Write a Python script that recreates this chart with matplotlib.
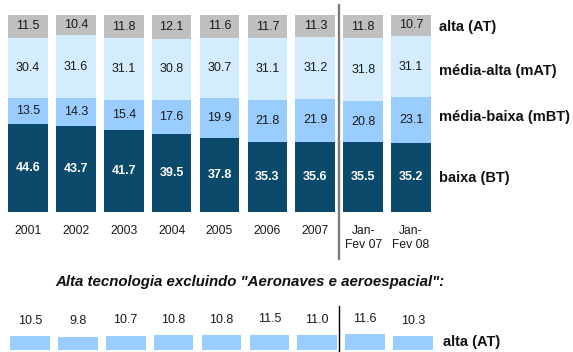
import matplotlib.pyplot as plt
import numpy as np
from matplotlib.lines import Line2D

plt.rcParams['font.family'] = ['Liberation Sans', 'DejaVu Sans']

# intensidade tecnológica (% do total)
periodos = ['2001', '2002', '2003', '2004', '2005', '2006', '2007', 'Jan-\nFev 07', 'Jan-\nFev 08']
baixa = [44.6, 43.7, 41.7, 39.5, 37.8, 35.3, 35.6, 35.5, 35.2]
media_baixa = [13.5, 14.3, 15.4, 17.6, 19.9, 21.8, 21.9, 20.8, 23.1]
media_alta = [30.4, 31.6, 31.1, 30.8, 30.7, 31.1, 31.2, 31.8, 31.1]
alta = [11.5, 10.4, 11.8, 12.1, 11.6, 11.7, 11.3, 11.8, 10.7]
# alta tecnologia sem aeronaves/aeroespacial
alta_sem_aero = [10.5, 9.8, 10.7, 10.8, 10.8, 11.5, 11.0, 11.6, 10.3]

series = [baixa, media_baixa, media_alta, alta]
nomes = ['baixa (BT)', 'média-baixa (mBT)', 'média-alta (mAT)', 'alta (AT)']
cores = ['#0b4a6b', '#99ccff', '#d3edff', '#bfbfbf']

W, H = 573, 352
fig = plt.figure(figsize=(W / 100, H / 100), dpi=100)

x = np.arange(len(periodos))
larg = 0.83

# grafico empilhado
ax = fig.add_axes([4 / W, (H - 212) / H, 431 / W, 197 / H])
base = np.zeros(len(periodos))
for vals, cor in zip(series, cores):
    vals = np.array(vals)
    ax.bar(x, vals, larg, bottom=base, color=cor, clip_on=False)
    for xi, b, v in zip(x, base, vals):
        if cor == '#0b4a6b':
            ax.text(xi, b + v / 2, f'{v:.1f}', ha='center', va='center',
                    fontsize=9, color='white', fontweight='bold')
        else:
            ax.text(xi, b + v / 2, f'{v:.1f}', ha='center', va='center',
                    fontsize=9, color='#1a1a1a')
    base += vals

ax.set_xlim(-0.5, 8.5)
ax.set_ylim(0, 100)
ax.set_yticks([])
ax.set_xticks(x, periodos, fontsize=8.7, color='#1a1a1a', linespacing=1.25)
ax.tick_params(axis='x', length=0, pad=9.5)
for s in ax.spines.values():
    s.set_visible(False)
ax.vlines(6.5, -24.4, 105.6, color='#7a7a7a', lw=1.7, clip_on=False)

# nomes das series a direita
for nome, ypx in zip(nomes, [178, 117, 71, 27]):
    fig.text(439 / W, 1 - ypx / H, nome, ha='left', va='center',
             fontsize=10.5, fontweight='bold', color='#111111')

fig.text(55 / W, 1 - 282 / H, 'Alta tecnologia excluindo "Aeronaves e aeroespacial":',
         ha='left', va='center', fontsize=10.8, fontweight='bold', fontstyle='italic',
         color='#111111')

# alta tecnologia sem aeronaves
ax2 = fig.add_axes([6 / W, (H - 349.5) / H, 431 / W, 15.6 / H])
ax2.bar(x, alta_sem_aero, larg, color='#99ccff', clip_on=False)
for xi, v in zip(x, alta_sem_aero):
    ax2.annotate(f'{v:.1f}', (xi, v), xytext=(0, 11), textcoords='offset points',
                 ha='center', va='center', fontsize=9, color='#1a1a1a')
ax2.set_xlim(-0.5, 8.5)
ax2.set_ylim(0, 12)
ax2.axis('off')
fig.add_artist(Line2D([339 / W, 339 / W], [0, 1 - 306 / H], color='black', lw=1,
                      transform=fig.transFigure))
fig.text(443 / W, 1 - 342 / H, 'alta (AT)', ha='left', va='center',
         fontsize=10.5, fontweight='bold', color='#111111')

fig.savefig('out.png', dpi=100)
